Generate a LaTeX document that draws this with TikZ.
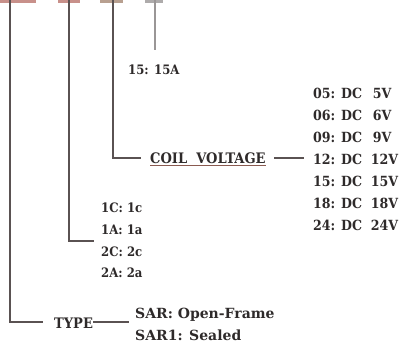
\documentclass[tikz,border=0pt]{standalone}
\usepackage{fontspec}
\setmainfont{DejaVu Serif Condensed}
\newfontfamily\widefont{DejaVu Serif}
\definecolor{linegray}{HTML}{5A5252}
\definecolor{lightgray}{HTML}{9A9696}
\definecolor{barpink}{HTML}{C8908A}
\definecolor{bartan}{HTML}{B8A090}
\definecolor{txtgray}{HTML}{2E2A2A}
\definecolor{underl}{HTML}{8A5A50}
\begin{document}
\begin{tikzpicture}[x=1pt,y=-1pt,
  txt/.style={inner sep=0pt, anchor=west, text=txtgray, font=\bfseries\fontsize{14}{16}\selectfont},
  small/.style={inner sep=0pt, anchor=west, text=txtgray, font=\bfseries\fontsize{13}{15}\selectfont},
  wide/.style={inner sep=0pt, anchor=west, text=txtgray, font=\widefont\bfseries\fontsize{14}{16}\selectfont},
  big/.style={inner sep=0pt, anchor=west, text=txtgray, font=\bfseries\fontsize{14.5}{16}\selectfont},
  ln/.style={line width=1.8pt, draw=linegray},
  lnl/.style={line width=1.6pt, draw=lightgray},
  bar/.style={line width=3pt, draw=barpink},
  bart/.style={line width=3pt, draw=bartan}]
\useasboundingbox (0,0) rectangle (400,347);
% top bars
\coordinate (b1a) at (0,1.5); \coordinate (b1b) at (36,1.5);
\coordinate (b2a) at (58,1.5); \coordinate (b2b) at (80,1.5);
\coordinate (b3a) at (100,1.5); \coordinate (b3b) at (123,1.5);
\coordinate (b4a) at (145,1.5); \coordinate (b4b) at (163,1.5);
\draw[bar] (b1a) -- (b1b);
\draw[bar] (b2a) -- (b2b);
\draw[bart] (b3a) -- (b3b);
\draw[bart, draw=lightgray!80] (b4a) -- (b4b);
% branch 1: TYPE
\coordinate (t1) at (10,0);
\coordinate (c1) at (10,322);
\coordinate (e1) at (43,322);
\node[big] (type) at (54,323) {TYPE};
\coordinate (s2) at (129,322);
\node[wide] (sar) at (135,315) {SAR: Open-Frame};
\node[wide] (sar1) at (135,335) {SAR1: Sealed};
\draw[ln] (t1) -- (c1) -- (e1);
\draw[ln, line width=1.4pt] (type.east |- s2) -- (s2);
% branch 2: contact
\coordinate (t2) at (69,0);
\coordinate (c2) at (69,241);
\coordinate (e2) at (94,241);
\draw[ln] (t2) -- (c2) -- (e2);
\node[small] (k1) at (101,208) {1C: 1c};
\node[small] (k2) at (101,230) {1A: 1a};
\node[small] (k3) at (101,252) {2C: 2c};
\node[small] (k4) at (101,273) {2A: 2a};
% branch 3: coil voltage
\coordinate (t3) at (113,0);
\coordinate (c3) at (113,158);
\coordinate (e3) at (141,158);
\draw[ln] (t3) -- (c3) -- (e3);
\node[big] (coil) at (150,158) {COIL\ \ VOLTAGE};
\draw[underl, line width=0.8pt] ([yshift=-2pt]coil.south west) -- ([yshift=-2pt]coil.south east);
\coordinate (v1) at (274,158);
\coordinate (v2) at (304,158);
\draw[ln, line width=1.4pt] (v1) -- (v2);
\node[txt] (d05) at (313,93) {05: DC\ \ \hspace{2pt}5V};
\node[txt] (d06) at (313,115) {06: DC\ \ \hspace{2pt}6V};
\node[txt] (d09) at (313,137) {09: DC\ \ \hspace{2pt}9V};
\node[txt] (d12) at (313,159) {12: DC\ \ 12V};
\node[txt] (d15) at (313,181) {15: DC\ \ 15V};
\node[txt] (d18) at (313,203) {18: DC\ \ 18V};
\node[txt] (d24) at (313,225) {24: DC\ \ 24V};
% branch 4: current
\coordinate (t4) at (155,0);
\coordinate (c4) at (155,50);
\draw[lnl] (t4) -- (c4);
\node[small] (cur) at (128,70) {15: 15A};
\end{tikzpicture}
\end{document}
